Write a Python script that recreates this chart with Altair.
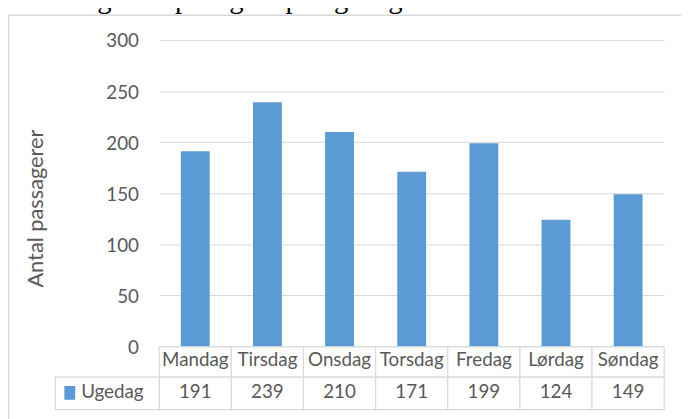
import altair as alt
import pandas as pd

days = ["Mandag", "Tirsdag", "Onsdag", "Torsdag", "Fredag", "Lørdag", "Søndag"]
values = [191, 239, 210, 171, 199, 124, 149]
series_name = "Ugedag"
y_ticks = [0, 50, 100, 150, 200, 250, 300]
title_text = "Fordelingen af pastigere på ugedage:"
y_title = "Antal passagerer"

df = pd.DataFrame({"day": days, "value": values})
one = pd.DataFrame({"label": [series_name]})

BLUE = "#5B9BD5"
GRID = "#d9d9d9"
TXT = "#595959"
FONT = "Lato"

W, H = 511, 310

xenc = alt.X("day:N", sort=days,
             scale=alt.Scale(paddingInner=0, paddingOuter=0), axis=None)

bars = alt.Chart(df).mark_bar(width=alt.RelativeBandSize(0.4), color=BLUE).encode(
    x=xenc,
    y=alt.Y("value:Q", scale=alt.Scale(domain=[0, 300], nice=False),
            axis=alt.Axis(values=y_ticks, grid=True, gridColor=GRID, gridWidth=1,
                          domain=False, ticks=False,
                          labelFont=FONT, labelFontSize=19, labelColor=TXT,
                          labelPadding=21, labelOffset=1,
                          title=y_title, titleFont=FONT, titleFontSize=22,
                          titleFontWeight="normal", titleColor=TXT,
                          titleX=-125, titleY=170, titleAngle=270,
                          titleAlign="center", titleBaseline="middle")),
)

# frame lines (decoration)
frame_left = alt.Chart(one).mark_rule(color=GRID, strokeWidth=1.5).encode(
    x=alt.value(-152.5), y=alt.value(-25), y2=alt.value(385))
frame_top = alt.Chart(one).mark_rule(color=GRID, strokeWidth=1.5).encode(
    x=alt.value(-152.5), x2=alt.value(530), y=alt.value(-25))

# data table
cat_cells = alt.Chart(df).mark_rect(fill="white", stroke=GRID, strokeWidth=1.2).encode(
    x=xenc, y=alt.value(310.5), y2=alt.value(341))
val_cells = alt.Chart(df).mark_rect(fill="white", stroke=GRID, strokeWidth=1.2).encode(
    x=xenc, y=alt.value(341), y2=alt.value(374))
cat_text = alt.Chart(df).mark_text(font=FONT, fontSize=19, color=TXT,
                                   baseline="alphabetic").encode(
    x=xenc, y=alt.value(330), text="day:N")
val_text = alt.Chart(df).mark_text(font=FONT, fontSize=19, color=TXT,
                                   baseline="alphabetic").encode(
    x=xenc, y=alt.value(362), text="value:Q")

legend_cell = alt.Chart(one).mark_rect(fill="white", stroke=GRID, strokeWidth=1.2).encode(
    x=alt.value(-105), x2=alt.value(0), y=alt.value(341), y2=alt.value(374))
legend_sq = alt.Chart(one).mark_rect(color=BLUE).encode(
    x=alt.value(-96), x2=alt.value(-85), y=alt.value(350), y2=alt.value(364))
legend_txt = alt.Chart(one).mark_text(font=FONT, fontSize=19, color=TXT,
                                      align="left", baseline="alphabetic").encode(
    x=alt.value(-79), y=alt.value(362), text="label:N")

title = alt.Chart(one).mark_text(font="Liberation Serif", fontSize=29, color="black",
                                 align="left", baseline="alphabetic").encode(
    x=alt.value(-161), y=alt.value(-32), text=alt.value(title_text))

chart = alt.layer(
    frame_left, frame_top, bars, cat_cells, val_cells, cat_text, val_text,
    legend_cell, legend_sq, legend_txt, title
).properties(
    width=W, height=H,
    padding={"left": 153, "top": 30, "right": 17, "bottom": 71},
    autosize=alt.AutoSizeParams(type="none"),
).configure_view(stroke=None)

chart.save("out.html", embed_options={"renderer": "svg", "actions": False})
